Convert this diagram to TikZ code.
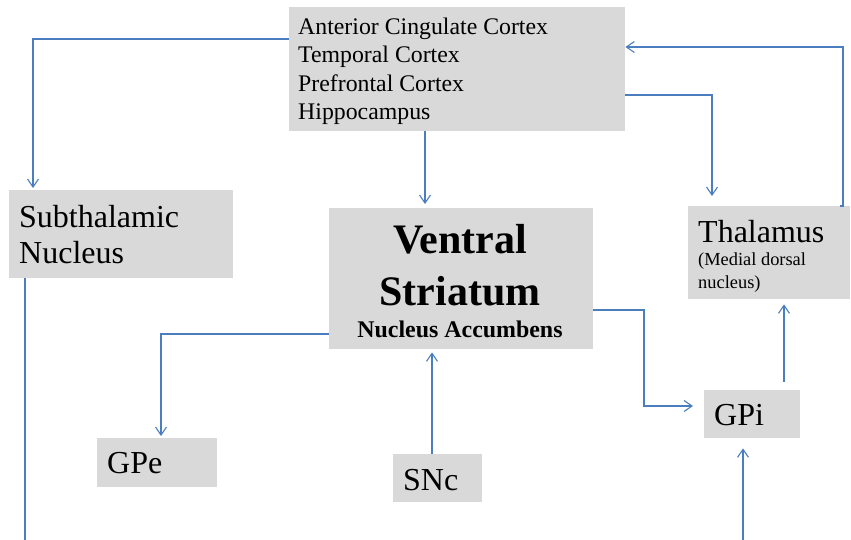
\documentclass[tikz,border=0pt]{standalone}
\usepackage{fontspec}
\setmainfont{Liberation Serif}
\usetikzlibrary{arrows.meta}
\definecolor{boxgray}{RGB}{217,217,217}
\definecolor{linkblue}{RGB}{74,126,190}
\begin{document}
\begin{tikzpicture}[x=1pt,y=-1pt,
  region/.style={fill=boxgray,draw=none,inner sep=0pt,anchor=north west},
  lbl/.style={anchor=base west,inner sep=0pt,text=black},
  clbl/.style={anchor=base,inner sep=0pt,text=black},
  link/.style={draw=linkblue,line width=1.1pt},
  arr/.style={link,-{Straight Barb[length=8pt,width=11pt,line width=1.1pt]}},
  big/.style={font=\fontsize{32}{36}\selectfont},
  mid/.style={font=\fontsize{23.8}{28}\selectfont},
  small/.style={font=\fontsize{18.4}{22}\selectfont}]
\useasboundingbox (0,0) rectangle (851,540);

% grey regions
\node[region,minimum width=336pt,minimum height=124pt] (top)  at (289,7)   {};
\node[region,minimum width=224pt,minimum height=88pt]  (stn)  at (9,190)   {};
\node[region,minimum width=264pt,minimum height=141pt] (vs)   at (329,208) {};
\node[region,minimum width=162pt,minimum height=93pt]  (thal) at (688,206) {};
\node[region,minimum width=120pt,minimum height=49pt]  (gpe)  at (97,438)  {};
\node[region,minimum width=89pt,minimum height=48pt]   (snc)  at (393,454) {};
\node[region,minimum width=96pt,minimum height=48pt]   (gpi)  at (704,390) {};

% labels
\node[lbl,mid] (t1) at (298,35)  {Anterior Cingulate Cortex};
\node[lbl,mid] (t2) at (298,63)  {Temporal Cortex};
\node[lbl,mid] (t3) at (298,92)  {Prefrontal Cortex};
\node[lbl,mid] (t4) at (298,120) {Hippocampus};

\node[lbl,big] (s1) at (19,227) {Subthalamic};
\node[lbl,big] (s2) at (19,263) {Nucleus};

\node[clbl,font=\fontsize{42}{46}\selectfont\bfseries] (v1) at (460,253) {Ventral};
\node[clbl,font=\fontsize{42}{46}\selectfont\bfseries] (v2) at (460,305) {Striatum};
\node[clbl,font=\fontsize{23.9}{28}\selectfont\bfseries] (v3) at (460,337) {Nucleus Accumbens};

\node[lbl,big]   (h1) at (698,242) {Thalamus};
\node[lbl,small] (h2) at (698,265) {(Medial dorsal};
\node[lbl,small] (h3) at (698,288) {nucleus)};

\node[lbl,big] (e1) at (107,473) {GPe};
\node[lbl,big] (n1) at (403,490) {SNc};
\node[lbl,big] (i1) at (714,425) {GPi};

% free ends at the lower edge
\coordinate (stnout) at (25,540);
\coordinate (gpiin)  at (743,540);

% connections
\draw[arr,shorten >=2pt] (top.west |- 0,39) -| (stn.north -| 33,0);
\draw[arr,shorten >=4pt] (top.south -| 425,0) -- (vs.north -| 425,0);
\draw[arr,shorten >=10pt] (top.east |- 0,95) -| (thal.north -| 712,0);
\draw[arr] (thal.north -| 840,0) -- (thal.north -| 843,0) |- (top.east |- 0,47);
\draw[arr,shorten >=11pt] (vs.east |- 0,310) -| (644,406) -- (gpi.west |- 0,406);
\draw[arr,shorten >=2pt] (vs.west |- 0,334) -| (gpe.north -| 161,0);
\draw[arr,shorten >=3pt] (snc.north -| 432,0) -- (vs.south -| 432,0);
\draw[arr,shorten <=8pt,shorten >=5pt] (gpi.north -| 784,0) -- (thal.south -| 784,0);
\draw[arr,shorten >=10pt] (gpiin) -- (gpi.south -| 743,0);
\draw[link] (stn.south -| 25,0) -- (stnout);
\end{tikzpicture}
\end{document}
